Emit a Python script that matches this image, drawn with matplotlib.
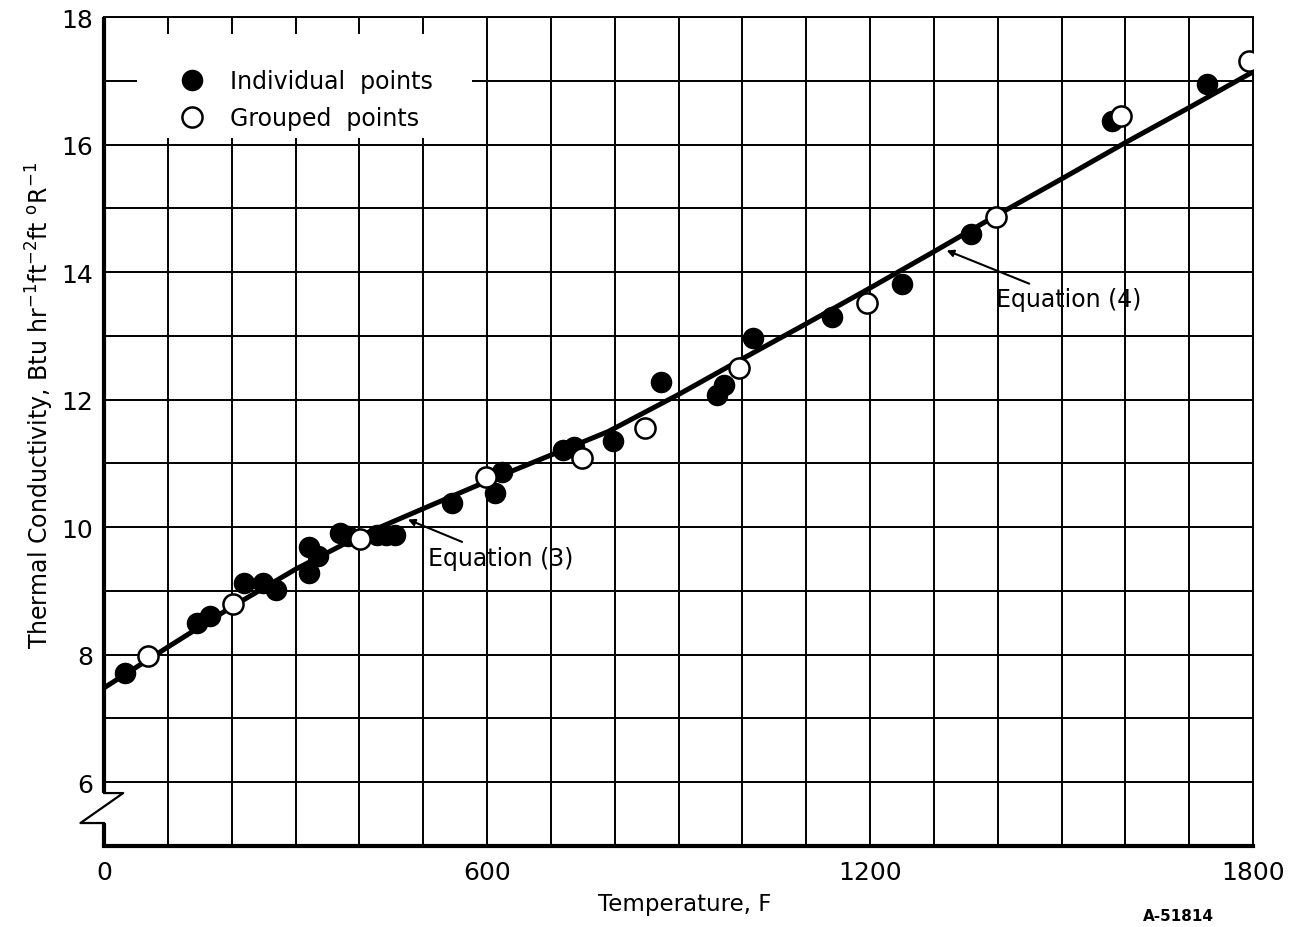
import matplotlib.pyplot as plt
from matplotlib.patches import Rectangle
from matplotlib.lines import Line2D

# measured points (temperature F, conductivity)
indiv_temp = [33, 145, 166, 219, 249, 270, 321, 335, 321, 369, 382, 428, 442, 456,
              545, 612, 623, 719, 737, 797, 873, 961, 972, 1016, 1141, 1250,
              1358, 1579, 1728]
indiv_k = [7.71, 8.50, 8.60, 9.13, 9.13, 9.02, 9.69, 9.55, 9.28, 9.91, 9.86, 9.88, 9.88, 9.88,
           10.38, 10.54, 10.87, 11.21, 11.26, 11.35, 12.28, 12.08, 12.23, 12.97, 13.29, 13.81,
           14.59, 16.37, 16.95]

grouped_temp = [69, 202, 401, 599, 748, 847, 995, 1196, 1397, 1593, 1793]
grouped_k = [7.98, 8.80, 9.82, 10.79, 11.09, 11.56, 12.50, 13.52, 14.86, 16.45, 17.31]

# equations (3) and (4)
fit_temp = [0, 100, 200, 300, 400, 500, 600, 700, 790, 900, 1000, 1100, 1200,
            1300, 1400, 1500, 1600, 1700, 1800]
fit_k = [7.48, 8.12, 8.75, 9.34, 9.86, 10.29, 10.72, 11.13, 11.50, 12.08, 12.64, 13.19, 13.75,
         14.32, 14.90, 15.46, 16.03, 16.58, 17.14]

x_labels = ['0', '600', '1200', '1800']
y_labels = ['6', '8', '10', '12', '14', '16', '18']

plt.rcParams['font.family'] = 'DejaVu Sans'
plt.rcParams['font.size'] = 17

fig = plt.figure(figsize=(13.04, 9.28), dpi=100)
ax = fig.add_axes([0.0798, 0.0873, 0.8811, 0.8933])
ax.set_xlim(0, 1800)
ax.set_ylim(5, 18)

ax.set_xticks([0, 600, 1200, 1800])
ax.set_xticklabels(x_labels)
ax.set_xticks(range(100, 1801, 100), minor=True)
ax.xaxis.remove_overlapping_locs = False
ax.set_yticks(range(6, 19, 2))
ax.set_yticklabels(y_labels)
ax.set_yticks(range(6, 19), minor=True)
ax.yaxis.remove_overlapping_locs = False

ax.set_axisbelow(True)
ax.grid(which='minor', color='black', linewidth=1.4)
ax.grid(False, which='major')
ax.tick_params(which='both', length=0, labelsize=18)
ax.tick_params(axis='x', pad=10)
ax.tick_params(axis='y', pad=8)

ax.spines['left'].set_visible(False)
for side in ('top', 'right'):
    ax.spines[side].set_linewidth(1.4)
ax.spines['bottom'].set_linewidth(3)

# left axis with the break between 5 and 6
ax.plot([0, 0], [18, 5.83], color='black', lw=3, clip_on=False, solid_capstyle='butt')
ax.plot([0, 30, -37, 0], [5.83, 5.83, 5.36, 5.36], color='black', lw=1.6, clip_on=False)
ax.plot([0, 0], [5.36, 5.0], color='black', lw=3, clip_on=False, solid_capstyle='butt')

# blank area behind the key
ax.add_patch(Rectangle((52, 16.11), 525, 1.62, facecolor='white', edgecolor='none', zorder=1))

ax.plot(fit_temp, fit_k, color='black', lw=3.6, zorder=2)
ax.plot(indiv_temp, indiv_k, 'o', color='black', ms=14.5, zorder=3)
ax.plot(grouped_temp, grouped_k, 'o', mfc='white', mec='black', mew=1.8, ms=14.5, zorder=4)

handles = [Line2D([], [], ls='none', marker='o', color='black', ms=14.5),
           Line2D([], [], ls='none', marker='o', mfc='white', mec='black', mew=1.8, ms=14.5)]
ax.legend(handles, ['Individual  points', 'Grouped  points'], loc='upper left',
          bbox_to_anchor=(0.0663, 0.937), frameon=False, borderpad=0, borderaxespad=0,
          handlelength=1.0, handletextpad=1.12, labelspacing=0.55, fontsize=17)

arrow = dict(arrowstyle='-|>', color='black', lw=1.5, mutation_scale=10, shrinkA=2, shrinkB=0)
ax.annotate('Equation (3)', xy=(476, 10.12), xytext=(507, 9.52), va='center', ha='left',
            arrowprops=arrow, zorder=5)
ax.annotate('Equation (4)', xy=(1320, 14.34), xytext=(1397, 13.57), va='center', ha='left',
            arrowprops=arrow, zorder=5)

fig.text(40 / 1304, 1 - 405 / 928,
         r'Thermal Conductivity, Btu hr$^{-1}$ft$^{-2}$ft $^{\mathrm{o}}$R$^{-1}$',
         rotation=90, ha='center', va='center', fontsize=17)
fig.text(685 / 1304, 1 - 905 / 928, 'Temperature, F', ha='center', va='center', fontsize=16.5)
fig.text(1178 / 1304, 1 - 917 / 928, 'A-51814', ha='center', va='center', fontsize=11,
         fontweight='bold')

fig.savefig('out.png', dpi=100)
plt.close(fig)
